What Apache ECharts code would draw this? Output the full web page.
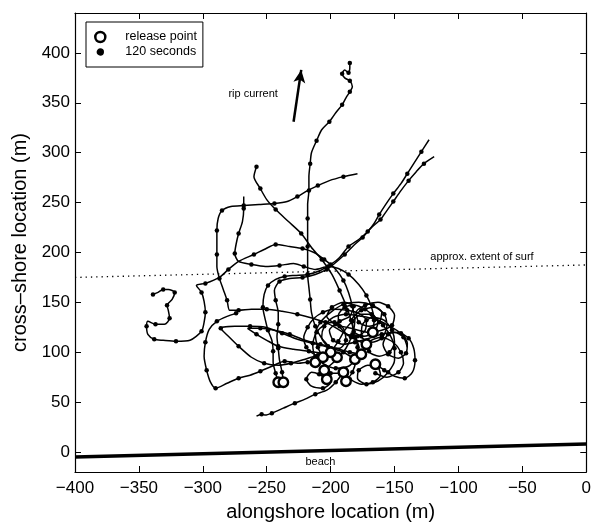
<!DOCTYPE html>
<html><head><meta charset="utf-8">
<script src="https://cdn.jsdelivr.net/npm/echarts@6/dist/echarts.min.js"></script>
<style>html,body{margin:0;padding:0;background:#fff}#c{width:594px;height:527px}</style>
</head><body><div id="c"></div>
<script>
const xTicks = [-400,-350,-300,-250,-200,-150,-100,-50,0];
const yTicks = [0,50,100,150,200,250,300,350,400];
const beachLine = [[-400,-5],[0,8]];
const surfLine = [[-400,175],[0,187.5]];
const ripArrow = [[-229,331],[-223,383]];

const trackA = [[-195,95],[-200,104],[-207,114],[-212,126],[-215,140],[-216,153],[-217,165],[-218,178],[-218,192],[-218,206],[-218,220],[-218,234],[-218,248],[-217,262],[-217,276],[-216,289],[-215,300],[-211,312],[-207,323],[-201,331],[-196,340],[-191,348],[-188,355],[-185,361],[-183,366],[-185,372],[-189,375],[-191,379],[-189,383],[-186,380],[-185,385],[-185,390]];
const trackNE1 = [[-241,70],[-243,79],[-245,90],[-245,101],[-246,112],[-249,122],[-251,132],[-253,145],[-252,158],[-249,167],[-243,173],[-236,176],[-228,177],[-218,178],[-208,182],[-200,188],[-193,195],[-186,206],[-178,213],[-171,221],[-166,229],[-162,238],[-157,248],[-151,259],[-145,269],[-140,279],[-135,289],[-129,301],[-123,313]];
const trackNE2 = [[-237,70],[-238,80],[-240,92],[-241,104],[-242,116],[-241,128],[-241,140],[-243,152],[-244,162],[-240,171],[-232,174],[-222,175],[-212,178],[-203,183],[-196,190],[-189,198],[-182,207],[-175,215],[-168,225],[-161,233],[-156,242],[-151,251],[-145,262],[-139,272],[-133,281],[-127,289],[-119,296]];
const trackH = [[-172,108],[-184,115],[-194,123],[-204,130],[-214,134],[-226,138],[-238,141],[-250,143],[-262,143],[-272,142],[-279,142],[-281,152],[-284,163],[-287,174],[-289,186],[-289,198],[-289,210],[-289,222],[-288,234],[-285,242],[-278,246],[-268,247],[-256,248],[-244,249],[-234,251],[-226,256],[-218,262],[-210,267],[-201,272],[-190,276],[-179,279]];
const trackY = [[-188,71],[-183,80],[-180,92],[-179,105],[-181,118],[-184,132],[-188,147],[-193,162],[-199,178],[-207,193],[-215,205],[-223,219],[-233,231],[-243,243],[-250,253],[-255,264],[-260,276],[-258,286]];
const trackW = [[-205,82],[-196,92],[-188,104],[-183,118],[-181,132],[-183,146],[-186,160],[-190,172],[-196,183],[-205,193],[-213,200],[-222,204],[-232,206],[-243,208],[-252,203],[-260,198],[-272,191],[-280,183],[-287,175],[-298,169],[-305,167],[-301,160],[-299,151],[-298,140],[-299,130],[-301,121],[-310,112],[-321,111],[-331,112],[-338,113],[-343,118],[-344,126],[-343,131],[-337,128],[-330,128],[-326,134],[-327,142],[-328,147],[-324,153],[-322,160],[-327,163],[-331,163],[-335,160],[-339,158]];
const trackV = [[-167,120],[-166,132],[-168,145],[-172,157],[-178,168],[-186,178],[-194,184],[-202,186],[-212,183],[-221,186],[-229,189],[-240,187],[-251,186],[-262,188],[-272,191],[-275,199],[-274,208],[-272,219],[-269,231],[-268,244],[-268,256]];
const trackLL = [[-190,80],[-196,70],[-203,62],[-212,58],[-220,53],[-228,49],[-237,44],[-246,39],[-251,37],[-254,38],[-258,36]];
const trackG = [[-212,90],[-218,90],[-225,89],[-236,91],[-246,86],[-255,81],[-263,77],[-272,74],[-281,69],[-290,64],[-294,70],[-297,82],[-299,96],[-298,110],[-295,123],[-289,131],[-281,136],[-274,139]];
const trackK1 = [[-181,93],[-190,100],[-202,105],[-214,109],[-226,113],[-238,119],[-251,125],[-263,126],[-275,126],[-286,124],[-280,116],[-272,106],[-262,95],[-252,89],[-241,87],[-231,89],[-220,93],[-210,97],[-202,98]];
const trackK2 = [[-176,98],[-185,100],[-196,104],[-208,108],[-220,112],[-232,118],[-244,122],[-255,124],[-265,124],[-258,118],[-250,112],[-241,106],[-229,103],[-217,101],[-207,99]];
const trackL1 = [[-200,100],[-194,111],[-189,122],[-183,131],[-176,138],[-168,138],[-163,130],[-166,120],[-174,116],[-182,121],[-183,133],[-176,142],[-166,145],[-158,138],[-156,126],[-160,114],[-168,110],[-176,116],[-175,128],[-167,135],[-158,132],[-152,122],[-150,110],[-154,100],[-162,96],[-170,101],[-169,111],[-160,115],[-151,110],[-145,100],[-143,89],[-147,80],[-156,75],[-165,79]];
const trackL2 = [[-165,88],[-158,82],[-150,76],[-142,74],[-136,80],[-134,92],[-135,104],[-139,114],[-147,120],[-155,118],[-159,108],[-155,98],[-147,94],[-141,99],[-140,109],[-145,119],[-155,127],[-165,133],[-176,136],[-188,138],[-198,135],[-205,126],[-207,115],[-202,106],[-193,104],[-188,112],[-190,124],[-197,130],[-204,128],[-211,120],[-214,108],[-212,96],[-205,88],[-196,84],[-186,86],[-180,94],[-178,105],[-181,115],[-188,118]];
const trackL3 = [[-203,73],[-209,78],[-215,80],[-219,73],[-215,66],[-206,64],[-200,70],[-200,79],[-193,79],[-185,73],[-176,68],[-167,70],[-161,77],[-163,85],[-171,87],[-178,82],[-179,74],[-172,68],[-163,71],[-155,80],[-150,92],[-150,104],[-153,116],[-159,127],[-166,136],[-173,143],[-181,147],[-189,145],[-194,137],[-193,126],[-187,118],[-179,116],[-173,122],[-172,132],[-178,139],[-187,142],[-197,143],[-206,140],[-213,134],[-218,125],[-221,115],[-219,105],[-213,98]];
const trackL4 = [[-206,95],[-210,105],[-212,118],[-208,130],[-200,140],[-190,148],[-178,150],[-167,147],[-160,140],[-162,130],[-170,126],[-178,130],[-180,140],[-173,147],[-163,150],[-155,146],[-150,137],[-152,127],[-160,122],[-170,120],[-184,124],[-196,128],[-203,136],[-199,145],[-190,150],[-182,146],[-185,136],[-193,131],[-201,122],[-198,112],[-190,108],[-181,110],[-170,114],[-160,118],[-150,120],[-143,115],[-140,105]];

const tracks = [trackA,trackNE1,trackNE2,trackH,trackY,trackW,trackV,trackLL,trackG,trackK1,trackK2,trackL1,trackL2,trackL3,trackL4];
const notes = [
  {text:'rip current', at:[-280,359], pos:'right'},
  {text:'approx. extent of surf', at:[-122,196], pos:'right'},
  {text:'beach', at:[-208,-10], pos:'inside'}
];

const dots = [];
tracks.forEach(t => t.forEach((p,i) => { if (i % 2 === 1) dots.push(p); }));
const releases = tracks.map(t => t[0]);

const FONT = 'Liberation Sans, Arial, sans-serif';
const minus = v => String(v).replace('-', '\u2212');

const series = [];
tracks.forEach(t => series.push({
  type:'line', data:t, showSymbol:false, smooth:0.25, silent:true,
  lineStyle:{color:'#000', width:1.5, opacity:1}, z:2
}));
series.push({type:'line', data:beachLine, showSymbol:false, silent:true, lineStyle:{color:'#000', width:3.5}, z:2});
series.push({type:'line', data:surfLine, showSymbol:false, silent:true, lineStyle:{color:'#000', width:1.3, type:[1.3,4]}, z:2});
series.push({type:'line', data:[], silent:true,
  markLine:{silent:true, symbol:['none','arrow'], symbolSize:[9,13], label:{show:false},
    lineStyle:{color:'#000', width:2.5, type:'solid'},
    data:[[{coord:ripArrow[0]},{coord:ripArrow[1]}]]}});
series.push({name:'120 seconds', type:'scatter', data:dots, symbol:'circle', symbolSize:4.5, silent:true,
  itemStyle:{color:'#000', opacity:1}, z:4});
series.push({name:'release point', type:'scatter', data:releases, symbol:'circle', symbolSize:9.5, silent:true,
  itemStyle:{color:'#fff', borderColor:'#000', borderWidth:2.4, opacity:1}, z:5});
series.push({type:'scatter', symbolSize:0, silent:true, z:6, itemStyle:{opacity:1},
  data:notes.map(n => ({value:n.at, label:{show:true, formatter:n.text, position:n.pos, distance:0,
    color:'#000', fontSize:11, fontFamily:FONT}}))});

const axisCommon = {
  axisLine:{show:true, onZero:false, lineStyle:{color:'#000', width:1.2}},
  axisTick:{show:true, inside:true, length:6, lineStyle:{color:'#000', width:1}},
  splitLine:{show:false}
};

const option = {
  animation:false,
  backgroundColor:'#fff',
  textStyle:{fontFamily:FONT},
  grid:{left:75, right:4, top:13, bottom:55, containLabel:false},
  legend:{
    data:[
      {name:'release point', icon:'circle', itemStyle:{color:'#fff', borderColor:'#000', borderWidth:2.5, opacity:1}},
      {name:'120 seconds', icon:'circle', itemStyle:{color:'#000', borderColor:'#fff', borderWidth:2.6, opacity:1}}
    ],
    orient:'vertical', left:86, top:22, itemWidth:10, itemHeight:10, itemGap:1,
    padding:[8,6,8,8], borderColor:'#000', borderWidth:1, selectedMode:false, backgroundColor:'#fff',
    textStyle:{fontSize:12.5, color:'#000', fontFamily:FONT, lineHeight:14, padding:[0,0,0,15]}
  },
  xAxis:[
    Object.assign({type:'value', min:-400, max:0, interval:50, position:'bottom',
      name:'alongshore location (m)', nameLocation:'middle', nameGap:30,
      nameTextStyle:{fontSize:20, color:'#000', fontFamily:FONT},
      axisLabel:{show:true, margin:8, fontSize:17, color:'#000', fontFamily:FONT,
        customValues:xTicks, formatter:minus}}, axisCommon,
      {axisTick:Object.assign({}, axisCommon.axisTick, {customValues:xTicks})}),
    Object.assign({type:'value', min:-400, max:0, interval:50, position:'top',
      axisLabel:{show:false}}, axisCommon,
      {axisTick:Object.assign({}, axisCommon.axisTick, {customValues:xTicks})})
  ],
  yAxis:[
    Object.assign({type:'value', min:-20, max:440, position:'left',
      name:'cross\u2013shore location (m)', nameLocation:'middle', nameGap:43, nameRotate:90,
      nameTextStyle:{fontSize:20, color:'#000', fontFamily:FONT},
      axisLabel:{show:true, margin:5, fontSize:17, color:'#000', fontFamily:FONT,
        customValues:yTicks, formatter:minus}}, axisCommon,
      {axisTick:Object.assign({}, axisCommon.axisTick, {customValues:yTicks})}),
    Object.assign({type:'value', min:-20, max:440, position:'right',
      axisLabel:{show:false}}, axisCommon,
      {axisTick:Object.assign({}, axisCommon.axisTick, {customValues:yTicks})})
  ],
  series:series
};
const chart = echarts.init(document.getElementById('c'), null, {renderer:'canvas'});
chart.setOption(option);
</script></body></html>
